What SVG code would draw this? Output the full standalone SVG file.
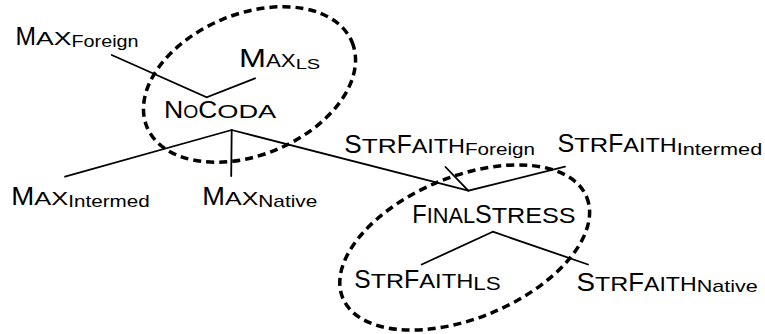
<svg xmlns="http://www.w3.org/2000/svg" width="765" height="334" viewBox="0 0 765 334">
<style>
text{font-family:"Liberation Sans",Arial,sans-serif;fill:#000}
.b{font-size:25px}
.s{font-size:18.5px}
.u{font-size:17px}
.b2{font-size:26.5px}
.s2{font-size:20px}
.c{stroke:#000;stroke-width:1.8;fill:none;stroke-linecap:round}
.grp{fill:none;stroke:#000;stroke-width:3.5;stroke-dasharray:8 5}
</style>
<rect width="765" height="334" fill="#fff"/>
<g id="connectors">
<polyline class="c" points="111.7,55 206.7,97.3 255,78.3"/>
<line class="c" x1="231.7" y1="130" x2="65" y2="176.7"/>
<line class="c" x1="231.7" y1="130" x2="231.2" y2="176"/>
<line class="c" x1="231.7" y1="130" x2="468.3" y2="190.7"/>
<polyline class="c" points="445.5,167 468.3,190.7 565,166.7"/>
<line class="c" x1="492.8" y1="231.7" x2="421.7" y2="264.5"/>
<line class="c" x1="492.8" y1="231.7" x2="588" y2="264.5"/>
</g>
<g id="groupings">
<ellipse class="grp" cx="249.5" cy="84.5" rx="111" ry="70.5" transform="rotate(-22.5 249.5 84.5)"/>
<ellipse class="grp" cx="464.7" cy="247.5" rx="132" ry="70.7" transform="rotate(-22.5 464.7 247.5)"/>
</g>
<g id="max-foreign">
<text y="45"><tspan class="b" x="15.5" textLength="20.5" lengthAdjust="spacingAndGlyphs">M</tspan><tspan class="s" x="36" textLength="35.5" lengthAdjust="spacingAndGlyphs">AX</tspan><tspan class="u" x="71.5" y="47" textLength="67" lengthAdjust="spacingAndGlyphs">Foreign</tspan></text>
</g>
<g id="max-ls">
<text y="67.3"><tspan class="b" x="239" textLength="27" lengthAdjust="spacingAndGlyphs">M</tspan><tspan class="s" x="266" textLength="29.7" lengthAdjust="spacingAndGlyphs">AX</tspan><tspan x="295.7" y="69.3" style="font-size:15.5px" textLength="24.5" lengthAdjust="spacingAndGlyphs">LS</tspan></text>
</g>
<g id="nocoda">
<text y="118.3"><tspan x="164" style="font-size:24px" textLength="19.3" lengthAdjust="spacingAndGlyphs">N</tspan><tspan x="183.3" style="font-size:17.5px" textLength="15" lengthAdjust="spacingAndGlyphs">O</tspan><tspan x="198.3" style="font-size:24px" textLength="19" lengthAdjust="spacingAndGlyphs">C</tspan><tspan x="217.3" style="font-size:17.5px" textLength="59" lengthAdjust="spacingAndGlyphs">ODA</tspan></text>
</g>
<g id="max-intermed">
<text y="205"><tspan class="b" x="11.3" textLength="23" lengthAdjust="spacingAndGlyphs">M</tspan><tspan class="s" x="34.3" textLength="34" lengthAdjust="spacingAndGlyphs">AX</tspan><tspan class="u" x="68.3" y="206.5" textLength="81.5" lengthAdjust="spacingAndGlyphs">Intermed</tspan></text>
</g>
<g id="max-native">
<text y="205"><tspan class="b" x="202.3" textLength="22.7" lengthAdjust="spacingAndGlyphs">M</tspan><tspan class="s" x="225" textLength="33.3" lengthAdjust="spacingAndGlyphs">AX</tspan><tspan class="u" x="258.3" y="206.5" textLength="59" lengthAdjust="spacingAndGlyphs">Native</tspan></text>
</g>
<g id="strfaith-foreign">
<text y="152.7"><tspan class="b2" x="344.3" textLength="17.4" lengthAdjust="spacingAndGlyphs">S</tspan><tspan class="s2" x="361.7" textLength="35" lengthAdjust="spacingAndGlyphs">TR</tspan><tspan class="b2" x="396.7" textLength="15" lengthAdjust="spacingAndGlyphs">F</tspan><tspan class="s2" x="411.7" textLength="53.3" lengthAdjust="spacingAndGlyphs">AITH</tspan><tspan class="u" x="465" y="155" textLength="70" lengthAdjust="spacingAndGlyphs">Foreign</tspan></text>
</g>
<g id="strfaith-intermed">
<text y="152.3"><tspan class="b2" x="557.5" textLength="16.8" lengthAdjust="spacingAndGlyphs">S</tspan><tspan class="s2" x="574.3" textLength="34" lengthAdjust="spacingAndGlyphs">TR</tspan><tspan class="b2" x="608.3" textLength="15" lengthAdjust="spacingAndGlyphs">F</tspan><tspan class="s2" x="623.3" textLength="53.4" lengthAdjust="spacingAndGlyphs">AITH</tspan><tspan class="u" x="676.7" y="154.5" textLength="85.5" lengthAdjust="spacingAndGlyphs">Intermed</tspan></text>
</g>
<g id="finalstress">
<text y="222.7"><tspan class="b2" x="412.3" textLength="14.4" lengthAdjust="spacingAndGlyphs">F</tspan><tspan x="426.7" style="font-size:21.5px" textLength="48.3" lengthAdjust="spacingAndGlyphs">INAL</tspan><tspan class="b2" x="475" textLength="16.7" lengthAdjust="spacingAndGlyphs">S</tspan><tspan x="491.7" style="font-size:21.5px" textLength="84" lengthAdjust="spacingAndGlyphs">TRESS</tspan></text>
</g>
<g id="strfaith-ls">
<text y="288.3"><tspan class="b2" x="354.3" textLength="16.4" lengthAdjust="spacingAndGlyphs">S</tspan><tspan class="s2" x="370.7" textLength="33.3" lengthAdjust="spacingAndGlyphs">TR</tspan><tspan class="b2" x="404" textLength="15.3" lengthAdjust="spacingAndGlyphs">F</tspan><tspan class="s2" x="419.3" textLength="54" lengthAdjust="spacingAndGlyphs">AITH</tspan><tspan x="473.3" y="289.5" style="font-size:18px" textLength="27.5" lengthAdjust="spacingAndGlyphs">LS</tspan></text>
</g>
<g id="strfaith-native">
<text y="290.7"><tspan class="b2" x="576.5" textLength="18.5" lengthAdjust="spacingAndGlyphs">S</tspan><tspan class="s2" x="595" textLength="33.3" lengthAdjust="spacingAndGlyphs">TR</tspan><tspan class="b2" x="628.3" textLength="15.7" lengthAdjust="spacingAndGlyphs">F</tspan><tspan class="s2" x="644" textLength="52.7" lengthAdjust="spacingAndGlyphs">AITH</tspan><tspan class="u" x="696.7" y="292" textLength="61" lengthAdjust="spacingAndGlyphs">Native</tspan></text>
</g>
</svg>
